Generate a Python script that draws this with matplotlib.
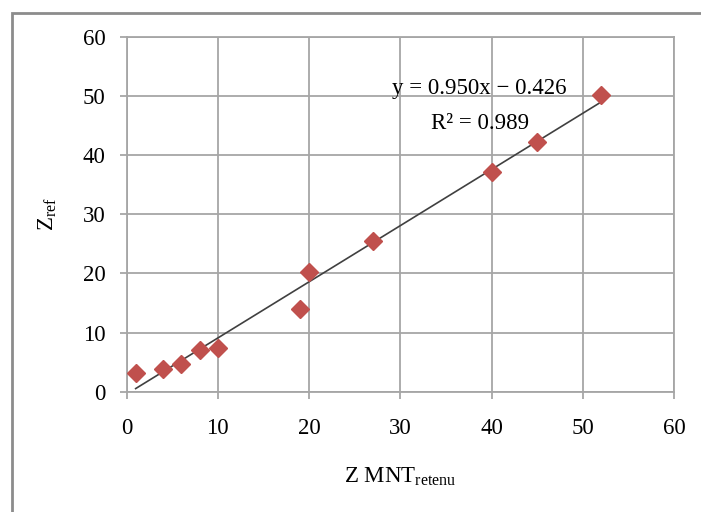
import matplotlib
matplotlib.use('Agg')
import matplotlib.pyplot as plt
from matplotlib.patches import Rectangle
import numpy as np

plt.rcParams['font.family'] = ['Liberation Serif', 'DejaVu Serif']

z_mnt = [1, 4, 6, 8, 10, 19, 20, 27, 40, 45, 52]
z_ref = [3.2, 3.9, 4.7, 7.0, 7.4, 13.9, 20.3, 25.4, 37.1, 42.3, 50.1]
slope, intercept = 0.950, -0.426
ticks = [0, 10, 20, 30, 40, 50, 60]

fig = plt.figure(figsize=(7.01, 5.12), dpi=100)
ax = fig.add_axes([0.1805, 0.235, 0.781, 0.693])

# outer chart border
fig.patches.append(Rectangle((12/701, -0.1), 1.2, 1 - 13/512 + 0.1, transform=fig.transFigure,
                             fill=False, edgecolor='#8c8c8c', linewidth=2))

xl = np.array([min(z_mnt), max(z_mnt)])
ax.plot(xl, slope*xl + intercept, color='#404040', linewidth=1.2, zorder=3)
ax.plot(z_mnt, z_ref, linestyle='none', marker='D', markersize=9.5,
        color='#c0504d', zorder=4)

ax.set_xlim(0, 60)
ax.set_ylim(0, 60)
ax.set_xticks(ticks)
ax.set_yticks(ticks)
ax.grid(True, color='#a6a6a6', linewidth=1.3)
ax.set_axisbelow(True)
for s in ax.spines.values():
    s.set_color('#a6a6a6')
    s.set_linewidth(1.3)
ax.tick_params(axis='both', labelsize=16.5, color='#a6a6a6', width=1.3, length=5)
ax.tick_params(axis='x', pad=14)
ax.tick_params(axis='y', pad=10)

ax.text(38.7, 51.2, 'y = 0.950x \u2212 0.426', fontsize=16.5, ha='center', va='center')
ax.text(38.7, 45.4, 'R\u00b2 = 0.989', fontsize=16.5, ha='center', va='center')

ax.set_xlabel('Z MNT$_{\\mathregular{retenu}}$', fontsize=16.5, labelpad=19)
ax.set_ylabel('Z$_{\\mathregular{ref}}$', fontsize=16.5, labelpad=17)

fig.savefig('out.png', dpi=100)
